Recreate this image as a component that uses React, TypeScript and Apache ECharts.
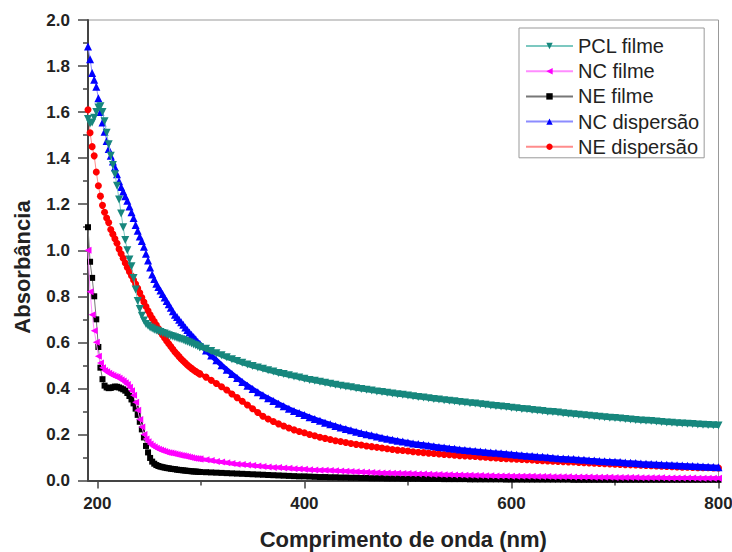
import React, { useEffect, useRef } from "react";
import * as echarts from "echarts";

// Wavelengths (nm): dense sampling in the UV edge, coarser in the visible tail
const wavelengthUV = [
  191, 193, 195, 197, 199, 201, 203, 205, 207, 209,
  211, 213, 215, 217, 219, 221, 223, 225, 227, 229,
  231, 233, 235, 237, 239, 241, 243, 245, 247, 249,
  251, 253, 255, 257, 259, 261, 263, 265, 267, 269,
  271, 273, 275, 277, 279, 281, 283, 285, 287, 289,
  291, 293, 295, 297, 299,
];
const wavelengthVis = [
  305, 310, 315, 320, 325, 330, 335, 340, 345, 350,
  355, 360, 365, 370, 375, 380, 385, 390, 395, 400,
  405, 410, 415, 420, 425, 430, 435, 440, 445, 450,
  455, 460, 465, 470, 475, 480, 485, 490, 495, 500,
  505, 510, 515, 520, 525, 530, 535, 540, 545, 550,
  555, 560, 565, 570, 575, 580, 585, 590, 595, 600,
  605, 610, 615, 620, 625, 630, 635, 640, 645, 650,
  655, 660, 665, 670, 675, 680, 685, 690, 695, 700,
  705, 710, 715, 720, 725, 730, 735, 740, 745, 750,
  755, 760, 765, 770, 775, 780, 785, 790, 795, 800,
];

const pclFilmeUV = [
  1.57, 1.55, 1.555, 1.575, 1.6, 1.62, 1.625, 1.6, 1.56, 1.51,
  1.46, 1.41, 1.37, 1.33, 1.28, 1.22, 1.16, 1.1, 1.045, 1.0,
  0.96, 0.93, 0.88, 0.83, 0.78, 0.745, 0.715, 0.695, 0.68, 0.672,
  0.665, 0.66, 0.655, 0.651, 0.648, 0.645, 0.641, 0.638, 0.634, 0.631,
  0.628, 0.625, 0.622, 0.619, 0.616, 0.613, 0.61, 0.606, 0.603, 0.599,
  0.595, 0.591, 0.587, 0.583, 0.579,
];
const pclFilmeVis = [
  0.572, 0.562, 0.553, 0.544, 0.535, 0.527, 0.519, 0.511, 0.504, 0.497,
  0.491, 0.485, 0.479, 0.473, 0.467, 0.462, 0.457, 0.452, 0.447, 0.442,
  0.437, 0.433, 0.429, 0.424, 0.42, 0.416, 0.412, 0.408, 0.405, 0.401,
  0.397, 0.394, 0.391, 0.387, 0.384, 0.381, 0.378, 0.375, 0.372, 0.369,
  0.366, 0.363, 0.36, 0.357, 0.354, 0.352, 0.349, 0.346, 0.344, 0.341,
  0.339, 0.336, 0.334, 0.331, 0.329, 0.326, 0.324, 0.321, 0.319, 0.316,
  0.314, 0.311, 0.309, 0.306, 0.304, 0.302, 0.299, 0.297, 0.295, 0.292,
  0.29, 0.288, 0.286, 0.283, 0.281, 0.279, 0.277, 0.275, 0.273, 0.271,
  0.269, 0.267, 0.265, 0.263, 0.261, 0.259, 0.258, 0.256, 0.254, 0.252,
  0.251, 0.249, 0.248, 0.246, 0.245, 0.243, 0.242, 0.241, 0.24, 0.239,
];

const ncFilmeUV = [
  1.0, 0.82, 0.72, 0.65, 0.6, 0.54, 0.51, 0.49, 0.478, 0.472,
  0.466, 0.46, 0.456, 0.452, 0.449, 0.444, 0.438, 0.432, 0.425, 0.417,
  0.405, 0.39, 0.37, 0.34, 0.305, 0.265, 0.232, 0.2, 0.18, 0.168,
  0.159, 0.151, 0.145, 0.14, 0.136, 0.132, 0.129, 0.126, 0.123, 0.121,
  0.119, 0.117, 0.115, 0.113, 0.111, 0.109, 0.107, 0.105, 0.103, 0.101,
  0.099, 0.097, 0.096, 0.094, 0.093,
];
const ncFilmeVis = [
  0.09, 0.087, 0.083, 0.08, 0.077, 0.074, 0.071, 0.069, 0.067, 0.065,
  0.063, 0.061, 0.059, 0.057, 0.056, 0.054, 0.053, 0.051, 0.05, 0.049,
  0.047, 0.046, 0.045, 0.044, 0.043, 0.042, 0.041, 0.04, 0.039, 0.038,
  0.037, 0.036, 0.035, 0.034, 0.033, 0.033, 0.032, 0.031, 0.03, 0.03,
  0.029, 0.028, 0.028, 0.027, 0.026, 0.026, 0.025, 0.025, 0.024, 0.024,
  0.023, 0.023, 0.022, 0.022, 0.021, 0.021, 0.02, 0.02, 0.02, 0.019,
  0.019, 0.018, 0.018, 0.018, 0.017, 0.017, 0.017, 0.016, 0.016, 0.016,
  0.016, 0.015, 0.015, 0.015, 0.015, 0.014, 0.014, 0.014, 0.014, 0.013,
  0.013, 0.013, 0.013, 0.013, 0.012, 0.012, 0.012, 0.012, 0.012, 0.011,
  0.011, 0.011, 0.011, 0.011, 0.011, 0.01, 0.01, 0.01, 0.01, 0.01,
];

const neFilmeUV = [
  1.1, 0.95, 0.88, 0.8, 0.7, 0.58, 0.49, 0.44, 0.412, 0.404,
  0.401, 0.402, 0.405, 0.408, 0.407, 0.404, 0.4, 0.396, 0.39, 0.38,
  0.367, 0.352, 0.335, 0.312, 0.285, 0.255, 0.222, 0.187, 0.15, 0.122,
  0.098, 0.082, 0.073, 0.067, 0.063, 0.06, 0.058, 0.056, 0.054, 0.053,
  0.051, 0.05, 0.049, 0.047, 0.046, 0.045, 0.044, 0.043, 0.042, 0.041,
  0.04, 0.039, 0.039, 0.038, 0.037,
];
const neFilmeVis = [
  0.036, 0.035, 0.034, 0.033, 0.032, 0.031, 0.03, 0.029, 0.028, 0.027,
  0.026, 0.025, 0.024, 0.023, 0.022, 0.021, 0.02, 0.019, 0.018, 0.018,
  0.017, 0.016, 0.015, 0.015, 0.014, 0.014, 0.013, 0.013, 0.012, 0.012,
  0.011, 0.011, 0.01, 0.01, 0.01, 0.009, 0.009, 0.009, 0.008, 0.008,
  0.008, 0.008, 0.007, 0.007, 0.007, 0.007, 0.006, 0.006, 0.006, 0.006,
  0.006, 0.005, 0.005, 0.005, 0.005, 0.005, 0.005, 0.005, 0.004, 0.004,
  0.004, 0.004, 0.004, 0.004, 0.004, 0.004, 0.004, 0.004, 0.004, 0.004,
  0.004, 0.003, 0.003, 0.003, 0.003, 0.003, 0.003, 0.003, 0.003, 0.003,
  0.003, 0.003, 0.003, 0.003, 0.003, 0.003, 0.003, 0.003, 0.003, 0.003,
  0.003, 0.003, 0.003, 0.003, 0.003, 0.003, 0.003, 0.003, 0.003, 0.003,
];

const ncDispersaoUV = [
  1.885, 1.83, 1.77, 1.74, 1.71, 1.66, 1.6, 1.555, 1.515, 1.475,
  1.44, 1.41, 1.385, 1.36, 1.33, 1.3, 1.275, 1.255, 1.235, 1.215,
  1.19, 1.165, 1.14, 1.11, 1.085, 1.06, 1.04, 1.015, 0.985, 0.955,
  0.925, 0.895, 0.875, 0.855, 0.84, 0.825, 0.81, 0.795, 0.78, 0.765,
  0.75, 0.735, 0.72, 0.71, 0.698, 0.687, 0.676, 0.665, 0.654, 0.643,
  0.633, 0.623, 0.613, 0.603, 0.593,
];
const ncDispersaoVis = [
  0.565, 0.543, 0.522, 0.501, 0.481, 0.463, 0.445, 0.428, 0.412, 0.397,
  0.383, 0.37, 0.357, 0.345, 0.333, 0.322, 0.312, 0.302, 0.293, 0.284,
  0.275, 0.267, 0.259, 0.251, 0.244, 0.237, 0.23, 0.224, 0.218, 0.212,
  0.206, 0.201, 0.196, 0.191, 0.186, 0.181, 0.177, 0.173, 0.169, 0.165,
  0.161, 0.158, 0.155, 0.152, 0.149, 0.146, 0.143, 0.14, 0.138, 0.135,
  0.133, 0.13, 0.128, 0.126, 0.124, 0.122, 0.12, 0.118, 0.116, 0.114,
  0.112, 0.11, 0.108, 0.106, 0.104, 0.103, 0.101, 0.099, 0.097, 0.096,
  0.094, 0.093, 0.091, 0.09, 0.088, 0.087, 0.085, 0.084, 0.082, 0.081,
  0.08, 0.078, 0.077, 0.076, 0.074, 0.073, 0.072, 0.071, 0.069, 0.068,
  0.067, 0.066, 0.065, 0.064, 0.063, 0.062, 0.061, 0.06, 0.059, 0.058,
];

const neDispersaoUV = [
  1.61, 1.51, 1.45, 1.41, 1.34, 1.28, 1.235, 1.195, 1.165, 1.14,
  1.12, 1.09, 1.07, 1.05, 1.03, 1.005, 0.985, 0.965, 0.945, 0.925,
  0.907, 0.889, 0.871, 0.853, 0.835, 0.815, 0.795, 0.775, 0.756, 0.737,
  0.72, 0.705, 0.69, 0.675, 0.66, 0.645, 0.632, 0.619, 0.606, 0.594,
  0.582, 0.57, 0.558, 0.548, 0.538, 0.528, 0.519, 0.51, 0.502, 0.494,
  0.487, 0.48, 0.474, 0.468, 0.463,
];
const neDispersaoVis = [
  0.449, 0.435, 0.421, 0.407, 0.393, 0.376, 0.36, 0.344, 0.328, 0.312,
  0.295, 0.279, 0.267, 0.256, 0.246, 0.237, 0.228, 0.22, 0.213, 0.207,
  0.2, 0.194, 0.188, 0.183, 0.178, 0.173, 0.169, 0.165, 0.161, 0.157,
  0.154, 0.15, 0.147, 0.144, 0.141, 0.138, 0.135, 0.132, 0.13, 0.128,
  0.125, 0.123, 0.121, 0.119, 0.117, 0.115, 0.113, 0.112, 0.11, 0.108,
  0.107, 0.105, 0.104, 0.102, 0.101, 0.099, 0.098, 0.096, 0.095, 0.094,
  0.092, 0.091, 0.09, 0.089, 0.087, 0.086, 0.085, 0.084, 0.083, 0.082,
  0.081, 0.08, 0.078, 0.077, 0.076, 0.075, 0.074, 0.073, 0.072, 0.071,
  0.07, 0.069, 0.068, 0.067, 0.066, 0.065, 0.064, 0.063, 0.062, 0.061,
  0.06, 0.059, 0.058, 0.058, 0.057, 0.056, 0.055, 0.055, 0.054, 0.054,
];

const seriesNames = ["PCL filme", "NC filme", "NE filme", "NC dispersão", "NE dispersão"];
const xLabelTicks = [200, 400, 600, 800];
const xMinorTicks = [300, 500, 700];

const FONT = 'Arial, "Liberation Sans", Helvetica, sans-serif';

export default function App() {
  const ref = useRef<HTMLDivElement>(null);

  useEffect(() => {
    if (!ref.current) return;
    const chart = echarts.init(ref.current, undefined, { renderer: "svg" });
    const pairs = (xs: number[], ys: number[]) => xs.map((x, i) => [x, ys[i]]);

    // Drawing order (bottom → top): NE filme, NC filme, NE dispersão, NC dispersão, PCL filme
    const specs = [
      { name: seriesNames[2], uv: neFilmeUV, vis: neFilmeVis, color: "#000000", line: "#777777", symbol: "rect", rot: 0, size: 6 },
      { name: seriesNames[1], uv: ncFilmeUV, vis: ncFilmeVis, color: "#ff00ff", line: "#ff8cff", symbol: "triangle", rot: 90, size: 7 },
      { name: seriesNames[4], uv: neDispersaoUV, vis: neDispersaoVis, color: "#ff0000", line: "#ff8c8c", symbol: "circle", rot: 0, size: 7 },
      { name: seriesNames[3], uv: ncDispersaoUV, vis: ncDispersaoVis, color: "#0000ff", line: "#8c8cff", symbol: "triangle", rot: 0, size: 8 },
      { name: seriesNames[0], uv: pclFilmeUV, vis: pclFilmeVis, color: "#17877d", line: "#7cc8c0", symbol: "triangle", rot: 180, size: 8 },
    ];

    const series: any[] = [];
    specs.forEach((s, k) => {
      const uvData = pairs(wavelengthUV, s.uv);
      const visData = [uvData[uvData.length - 1], ...pairs(wavelengthVis, s.vis)];
      series.push({
        name: s.name,
        type: "line",
        data: uvData,
        symbol: s.symbol,
        symbolSize: s.size,
        symbolRotate: s.rot,
        showSymbol: true,
        z: 2 + k * 0.1,
        itemStyle: { color: s.color, borderWidth: 0 },
        lineStyle: { color: s.line, width: 1 },
        emphasis: { disabled: true },
      });
      series.push({
        name: s.name,
        type: "line",
        data: visData,
        symbol: s.symbol,
        symbolSize: s.size,
        symbolRotate: s.rot,
        showSymbol: true,
        z: 2 + k * 0.1,
        itemStyle: { color: s.color, borderWidth: 0 },
        lineStyle: { color: s.color, width: Math.max(3, s.size - 3) },
        emphasis: { disabled: true },
      });
    });

    chart.setOption({
      animation: false,
      backgroundColor: "#ffffff",
      grid: {
        left: 88,
        right: 13.5,
        top: 20,
        bottom: 71.5,
        containLabel: false,
        outerBoundsMode: "none",
        show: true,
        borderColor: "#999999",
        borderWidth: 1,
        backgroundColor: "transparent",
      },
      legend: {
        orient: "vertical",
        left: 519,
        top: 28,
        width: 188,
        padding: [8, 5, 1, 6],
        itemWidth: 47,
        itemHeight: 8,
        itemGap: 5.2,
        borderColor: "#999999",
        borderWidth: 1,
        backgroundColor: "#ffffff",
        selectedMode: false,
        data: seriesNames,
        textStyle: { fontFamily: FONT, fontSize: 20, lineHeight: 20, color: "#222222" },
      },
      xAxis: [
        {
          type: "value",
          min: 191,
          max: 800,
          name: "Comprimento de onda (nm)",
          nameLocation: "middle",
          nameGap: 48,
          nameTextStyle: { fontFamily: FONT, fontSize: 22, fontWeight: "bold", color: "#222222" },
          axisLine: { show: true, onZero: false, lineStyle: { color: "#444444", width: 2 } },
          axisTick: { show: true, inside: false, length: 8, customValues: xLabelTicks, lineStyle: { color: "#444444", width: 1.5 } },
          axisLabel: { show: true, margin: 14, customValues: xLabelTicks, fontFamily: FONT, fontSize: 17, fontWeight: "bold", color: "#222222" },
          splitLine: { show: false },
        },
        {
          type: "value",
          min: 191,
          max: 800,
          position: "bottom",
          axisLine: { show: false },
          axisTick: { show: true, inside: false, length: 5, customValues: xMinorTicks, lineStyle: { color: "#444444", width: 1.5 } },
          axisLabel: { show: false },
          splitLine: { show: false },
        },
      ],
      yAxis: {
        type: "value",
        min: 0,
        max: 2,
        interval: 0.2,
        name: "",
        axisLine: { show: true, onZero: false, lineStyle: { color: "#444444", width: 2 } },
        axisTick: { show: true, inside: false, length: 10, lineStyle: { color: "#444444", width: 1.5 } },
        minorTick: { show: true, splitNumber: 2, length: 5, lineStyle: { color: "#444444", width: 1.5 } },
        axisLabel: {
          margin: 18,
          fontFamily: FONT,
          fontSize: 17,
          fontWeight: "bold",
          color: "#222222",
          formatter: (v: number) => v.toFixed(1),
        },
        splitLine: { show: false },
        minorSplitLine: { show: false },
      },
      graphic: [
        {
          type: "text",
          x: 22,
          y: 267,
          rotation: Math.PI / 2,
          style: {
            text: "Absorbância",
            fontFamily: FONT,
            fontSize: 22,
            fontWeight: "bold",
            fill: "#222222",
            align: "center",
            verticalAlign: "middle",
          },
        },
      ],
      series,
    });

    return () => chart.dispose();
  }, []);

  return (
    <div
      ref={ref}
      style={{ position: "fixed", left: 0, top: 0, width: 732, height: 552, background: "#fff" }}
    />
  );
}
